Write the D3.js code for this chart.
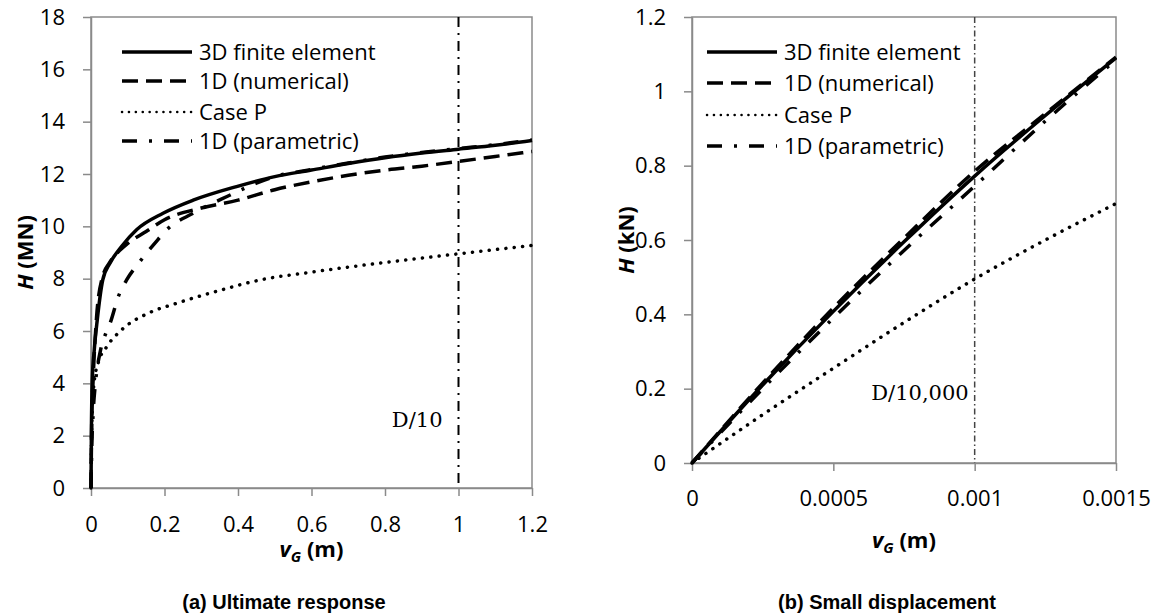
<!DOCTYPE html>
<html>
<head>
<meta charset="utf-8">
<script src="https://cdn.jsdelivr.net/npm/d3@7"></script>
<style>
  body { margin: 0; background: #fff; }
  svg { display: block; }
  .tick text { font-family: 'Open Sans', sans-serif; font-size: 22px; fill: #000; }
  .axis path, .axis line { stroke: #8a8a8a; stroke-width: 1.5; }
</style>
</head>
<body>
<div id="graf"></div>
<script>
// -- Datos (a) respuesta última: v_G (m) vs H (MN)
feUltV  = [0, 0.001, 0.0035, 0.009, 0.017, 0.032, 0.052, 0.083, 0.124, 0.196, 0.278, 0.396, 0.5, 0.6, 0.7, 0.8, 0.9, 1.0, 1.1, 1.2]
feUltH  = [0, 2.0, 4.13, 5.3, 6.42, 7.95, 8.6, 9.23, 9.87, 10.5, 11.0, 11.52, 11.9, 12.15, 12.4, 12.62, 12.8, 12.95, 13.1, 13.28]
numUltV = [0, 0.002, 0.006, 0.015, 0.03, 0.05, 0.08, 0.1, 0.15, 0.2, 0.3, 0.4, 0.5, 0.6, 0.7, 0.8, 0.9, 1.0, 1.1, 1.2]
numUltH = [0, 2.5, 4.2, 6.5, 8.0, 8.6, 9.1, 9.35, 9.8, 10.25, 10.7, 11.0, 11.4, 11.7, 11.95, 12.15, 12.3, 12.48, 12.67, 12.86]
pUltV   = [0, 0.001, 0.003, 0.009, 0.02, 0.043, 0.083, 0.156, 0.233, 0.35, 0.46, 0.6, 0.8, 1.0, 1.2]
pUltH   = [0, 1.5, 2.8, 4.1, 4.8, 5.4, 6.04, 6.68, 7.06, 7.55, 7.95, 8.25, 8.62, 8.95, 9.27]
parUltV = [0, 0.002, 0.006, 0.012, 0.025, 0.04, 0.052, 0.074, 0.097, 0.13, 0.174, 0.206, 0.278, 0.37, 0.45, 0.5, 0.6, 0.7, 0.8, 0.9, 1.0, 1.1, 1.2]
parUltH = [0, 1.5, 2.9, 4.0, 5.2, 5.9, 6.3, 7.3, 7.95, 8.6, 9.36, 9.87, 10.5, 11.14, 11.65, 11.9, 12.17, 12.42, 12.65, 12.82, 12.97, 13.12, 13.3]

// -- Datos (b) desplazamiento pequeño: v_G (m) vs H (kN)
smallV    = [0, 0.00025, 0.0005, 0.00075, 0.001, 0.00125, 0.0015]
feSmallH  = [0, 0.21, 0.408, 0.595, 0.772, 0.935, 1.09]
numSmallH = [0, 0.215, 0.417, 0.605, 0.785, 0.94, 1.092]
pSmallH   = [0, 0.13, 0.255, 0.378, 0.495, 0.6, 0.698]
parSmallH = [0, 0.2, 0.39, 0.572, 0.745, 0.92, 1.085]

// -- Etiquetas
seriesNames = ['3D finite element', '1D (numerical)', 'Case P', '1D (parametric)']
ultXTicks   = [0, 0.2, 0.4, 0.6, 0.8, 1, 1.2]
ultYTicks   = [0, 2, 4, 6, 8, 10, 12, 14, 16, 18]
smallXTicks = [0, 0.0005, 0.001, 0.0015]
smallYTicks = [0, 0.2, 0.4, 0.6, 0.8, 1, 1.2]

// -- Estilos de línea por serie
estilos = [
  { dash: null, width: 3.5, cap: 'butt' },
  { dash: '16,8', width: 3.5, cap: 'butt' },
  { dash: '0.1,8.3', width: 3.5, cap: 'round' },
  { dash: '15,12,3,12', width: 3.5, cap: 'butt' }
]

// -- Configuración del canvas
svg = d3.select('#graf').append('svg')
        .attr('width', 1158)
        .attr('height', 616)

function panel(cfg) {
  x = d3.scaleLinear().domain(cfg.xDom).range([cfg.x0, cfg.x1])
  y = d3.scaleLinear().domain(cfg.yDom).range([cfg.y1, cfg.y0])
  g = svg.append('g')

  // -- Marco
  g.append('rect')
    .attr('x', cfg.x0).attr('y', cfg.y0)
    .attr('width', cfg.x1 - cfg.x0).attr('height', cfg.y1 - cfg.y0)
    .attr('fill', 'none').attr('stroke', '#8a8a8a').attr('stroke-width', 1.5)

  // -- Ejes
  g.append('g')
    .attr('class', 'axis')
    .attr('transform', `translate(0,${cfg.y1})`)
    .call(d3.axisBottom(x).tickValues(cfg.xTicks).tickSize(8).tickSizeOuter(0)
            .tickPadding(cfg.xPad).tickFormat(d => String(+d.toFixed(4))))
  g.append('g')
    .attr('class', 'axis')
    .attr('transform', `translate(${cfg.x0},0)`)
    .call(d3.axisLeft(y).tickValues(cfg.yTicks).tickSize(8).tickSizeOuter(0)
            .tickPadding(18).tickFormat(d => String(+d.toFixed(4))))

  // -- Línea de referencia vertical
  g.append('line')
    .attr('x1', x(cfg.refX)).attr('x2', x(cfg.refX))
    .attr('y1', cfg.y0).attr('y2', cfg.y1)
    .attr('stroke', cfg.refColor).attr('stroke-width', cfg.refWidth)
    .attr('stroke-dasharray', cfg.refDash)
  g.append('text')
    .attr('x', x(cfg.refX) - cfg.refGap).attr('y', cfg.refLabelY)
    .attr('text-anchor', 'end')
    .attr('font-family', 'DejaVu Serif')
    .attr('font-size', '21px')
    .text(cfg.refLabel)

  // -- Curvas
  linea = d3.line().x(d => x(d[0])).y(d => y(d[1])).curve(d3.curveMonotoneX)
  cfg.series.forEach((s, i) => {
    datos = s.v.map((v, j) => [v, s.h[j]])
    g.append('path')
      .datum(datos)
      .attr('d', linea)
      .attr('fill', 'none')
      .attr('stroke', '#000')
      .attr('stroke-width', estilos[i].width)
      .attr('stroke-linecap', estilos[i].cap)
      .attr('stroke-dasharray', estilos[i].dash)
  })

  // -- Leyenda
  cfg.legRows.forEach((ly, i) => {
    g.append('line')
      .attr('x1', cfg.legX).attr('x2', cfg.legX + 70)
      .attr('y1', ly).attr('y2', ly)
      .attr('stroke', '#000')
      .attr('stroke-width', i == 2 ? 2.5 : estilos[i].width)
      .attr('stroke-linecap', estilos[i].cap)
      .attr('stroke-dasharray', i == 2 ? '0.1,6.8' : estilos[i].dash)
    g.append('text')
      .attr('x', cfg.legX + 77).attr('y', ly).attr('dy', '0.36em')
      .attr('font-family', 'Open Sans').attr('font-size', '22px')
      .text(seriesNames[i])
  })

  // -- Título eje Y
  yt = g.append('text')
        .attr('transform', `translate(${cfg.yTitleX},${(cfg.y0 + cfg.y1) / 2}) rotate(-90)`)
        .attr('text-anchor', 'middle')
        .attr('font-family', 'Open Sans').attr('font-size', '22px').attr('font-weight', 'bold')
  yt.append('tspan').attr('font-style', 'italic').text('H')
  yt.append('tspan').text(` (${cfg.unit})`)

  // -- Título eje X
  xt = g.append('text')
        .attr('x', (cfg.x0 + cfg.x1) / 2).attr('y', cfg.xTitleY)
        .attr('text-anchor', 'middle')
        .attr('font-family', 'Open Sans').attr('font-size', '22px').attr('font-weight', 'bold')
  xt.append('tspan').attr('font-style', 'italic').text('v')
  xt.append('tspan').attr('font-style', 'italic').attr('font-size', '15px').attr('dy', 5).text('G')
  xt.append('tspan').attr('dy', -5).text(' (m)')

  // -- Leyenda del panel
  g.append('text')
    .attr('x', cfg.capX).attr('y', 609)
    .attr('text-anchor', 'middle')
    .attr('font-family', 'Liberation Sans').attr('font-size', '20px').attr('font-weight', 'bold')
    .text(cfg.caption)
}

panel({
  x0: 91, x1: 532, y0: 17, y1: 488,
  xDom: [0, 1.2], yDom: [0, 18],
  xTicks: ultXTicks, yTicks: ultYTicks, xPad: 20,
  refX: 1, refColor: '#000', refWidth: 2, refDash: '10,6,2,6',
  refLabel: 'D/10', refGap: 16, refLabelY: 427,
  series: [
    { v: feUltV, h: feUltH },
    { v: numUltV, h: numUltH },
    { v: pUltV, h: pUltH },
    { v: parUltV, h: parUltH }
  ],
  legX: 122, legRows: [52, 81, 112, 141],
  yTitleX: 33, unit: 'MN', xTitleY: 557,
  capX: 284, caption: '(a) Ultimate response'
})

panel({
  x0: 692, x1: 1116, y0: 17, y1: 463,
  xDom: [0, 0.0015], yDom: [0, 1.2],
  xTicks: smallXTicks, yTicks: smallYTicks, xPad: 19,
  refX: 0.001, refColor: '#444', refWidth: 1.5, refDash: '6,3,1.5,3',
  refLabel: 'D/10,000', refGap: 6, refLabelY: 400,
  series: [
    { v: smallV, h: feSmallH },
    { v: smallV, h: numSmallH },
    { v: smallV, h: pSmallH },
    { v: smallV, h: parSmallH }
  ],
  legX: 707, legRows: [52, 83, 115, 146],
  yTitleX: 634, unit: 'kN', xTitleY: 548,
  capX: 887, caption: '(b) Small displacement'
})
</script>
</body>
</html>
